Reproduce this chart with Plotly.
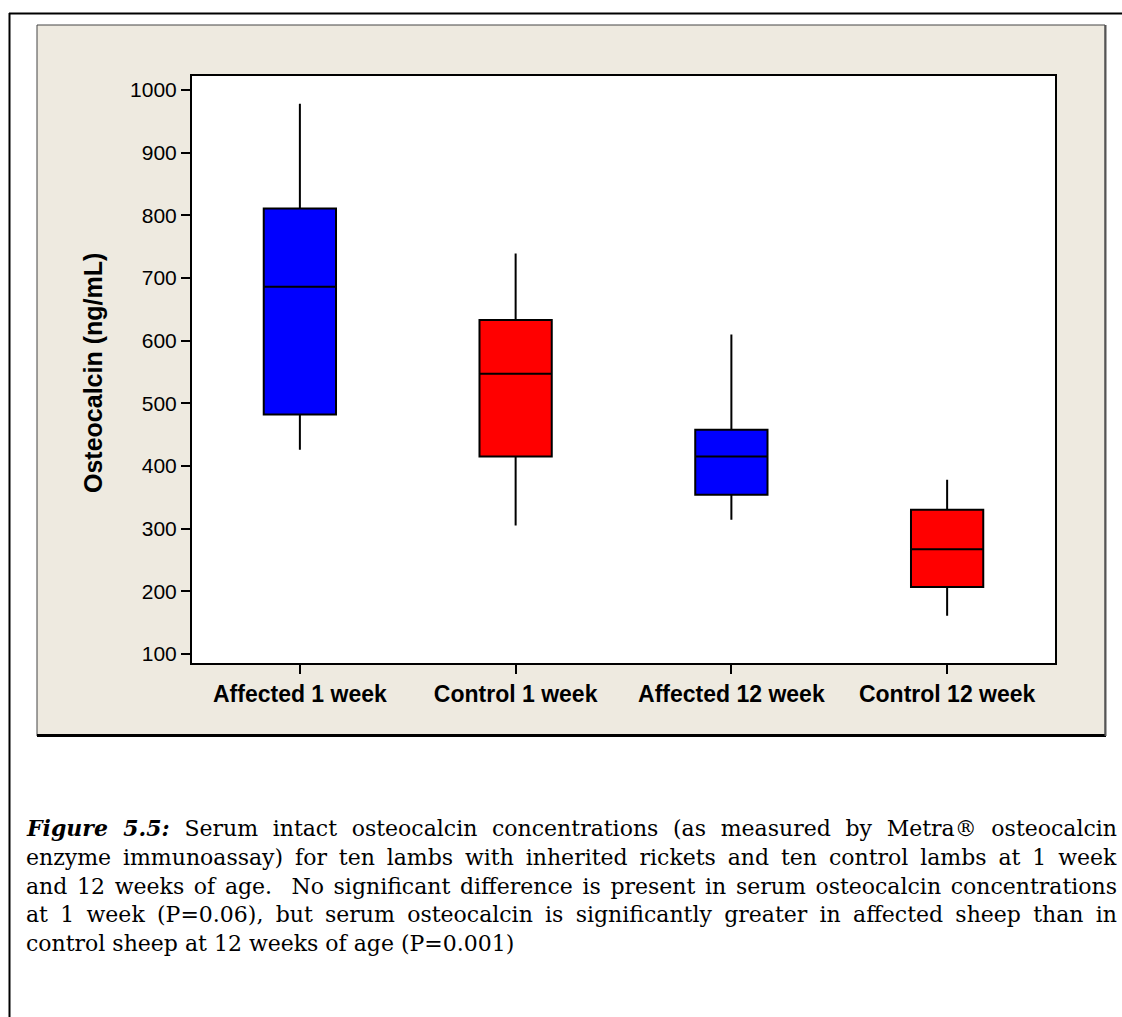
import plotly.graph_objects as go

# ---------------- data ----------------
categories = ["Affected 1 week", "Control 1 week", "Affected 12 week", "Control 12 week"]

affected_x = ["Affected 1 week", "Affected 12 week"]
affected_low = [426, 314]
affected_q1 = [482, 354]
affected_median = [686, 415]
affected_q3 = [811, 458]
affected_high = [978, 610]

control_x = ["Control 1 week", "Control 12 week"]
control_low = [305, 161]
control_q1 = [415, 207]
control_median = [547, 267]
control_q3 = [633, 330]
control_high = [739, 378]

y_ticks = [100, 200, 300, 400, 500, 600, 700, 800, 900, 1000]

caption_lines = [
    "<b><i>Figure 5.5:</i></b> Serum intact osteocalcin concentrations (as measured by Metra® osteocalcin",
    "enzyme immunoassay) for ten lambs with inherited rickets and ten control lambs at 1 week",
    "and 12 weeks of age.  No significant difference is present in serum osteocalcin concentrations",
    "at 1 week (P=0.06), but serum osteocalcin is significantly greater in affected sheep than in",
    "control sheep at 12 weeks of age (P=0.001)",
]

# ---------------- layout geometry (pixels) ----------------
W, H = 1122, 1017
PL, PR, PT, PB = 192, 1055, 76, 663  # plot area edges


def px(x):
    return (x - PL) / (PR - PL)


def py(y):
    return (PB - y) / (PB - PT)


fig = go.Figure()

fig.add_trace(go.Box(
    x=affected_x, q1=affected_q1, median=affected_median, q3=affected_q3,
    lowerfence=affected_low, upperfence=affected_high,
    fillcolor="#0000FF", line=dict(color="black", width=2),
    whiskerwidth=0, width=0.335, boxpoints=False, showlegend=False,
    name="Affected",
))
fig.add_trace(go.Box(
    x=control_x, q1=control_q1, median=control_median, q3=control_q3,
    lowerfence=control_low, upperfence=control_high,
    fillcolor="#FF0000", line=dict(color="black", width=2),
    whiskerwidth=0, width=0.335, boxpoints=False, showlegend=False,
    name="Control",
))

shapes = [
    # beige panel
    dict(type="rect", xref="paper", yref="paper", layer="below",
         x0=px(37), x1=px(1105), y0=py(736), y1=py(25),
         fillcolor="#EEEAE0", line=dict(color="#444444", width=1)),
    # panel bottom/right heavier edges
    dict(type="line", xref="paper", yref="paper", layer="below",
         x0=px(37), x1=px(1106), y0=py(735.5), y1=py(735.5),
         line=dict(color="black", width=3)),
    dict(type="line", xref="paper", yref="paper", layer="below",
         x0=px(1105.5), x1=px(1105.5), y0=py(25), y1=py(736),
         line=dict(color="#555555", width=2)),
    # white plotting area
    dict(type="rect", xref="paper", yref="paper", layer="below",
         x0=0, x1=1, y0=0, y1=1,
         fillcolor="white", line=dict(width=0)),
    # outer page frame
    dict(type="line", xref="paper", yref="paper", layer="below",
         x0=px(9), x1=px(1122), y0=py(13.5), y1=py(13.5),
         line=dict(color="black", width=2)),
    dict(type="line", xref="paper", yref="paper", layer="below",
         x0=px(9.5), x1=px(9.5), y0=py(13), y1=py(1017),
         line=dict(color="black", width=2)),
]

annotations = [
    dict(text="<b>Osteocalcin (ng/mL)</b>", xref="paper", yref="paper",
         x=px(93), y=py(373), textangle=-90, showarrow=False,
         xanchor="center", yanchor="middle",
         font=dict(family="Liberation Sans, Arial, sans-serif", size=25, color="black")),
]

line_y = [828, 857, 886, 914, 943]
for txt, ly in zip(caption_lines, line_y):
    annotations.append(dict(
        text=txt, xref="paper", yref="paper", x=px(24), y=py(ly),
        xanchor="left", yanchor="middle", showarrow=False, align="left",
        font=dict(family="DejaVu Serif, serif", size=22, color="black"),
    ))

fig.update_layout(
    width=W, height=H,
    margin=dict(l=PL, r=W - PR, t=PT, b=H - PB, pad=0),
    paper_bgcolor="white",
    plot_bgcolor="rgba(0,0,0,0)",
    boxmode="overlay",
    showlegend=False,
    shapes=shapes,
    annotations=annotations,
    xaxis=dict(
        type="category", categoryorder="array", categoryarray=categories,
        range=[-0.5, 3.5], showgrid=False, zeroline=False,
        showline=True, linecolor="black", linewidth=2, mirror=True,
        ticks="outside", ticklen=9, tickwidth=2, tickcolor="black",
        tickfont=dict(family="Liberation Sans, Arial, sans-serif", size=23, color="black", weight="bold"),
        automargin=False,
    ),
    yaxis=dict(
        range=[85.6, 1022.3], tickvals=y_ticks, ticktext=[str(v) for v in y_ticks],
        showgrid=False, zeroline=False,
        showline=True, linecolor="black", linewidth=2, mirror=True,
        ticks="outside", ticklen=9, tickwidth=2, tickcolor="black",
        tickfont=dict(family="Liberation Sans, Arial, sans-serif", size=21, color="black"),
        automargin=False,
    ),
)

# justify the first four caption lines (as in the printed figure)
justify_js = """
var gd = document.getElementById('{plot_id}');
var right = 1125;
gd.querySelectorAll('text.annotation-text').forEach(function(t) {
  var s = t.textContent || '';
  var r0 = t.getBoundingClientRect();
  if (r0.left < 60 && s.length > 60) {
    var n = (s.match(/ +/g) || []).length;
    if (n > 0) {
      var ws = 0;
      for (var k = 0; k < 3; k++) {
        var r = t.getBoundingClientRect();
        ws += (right - r.right) / n;
        t.style.wordSpacing = ws + 'px';
      }
    }
  }
});
"""

fig.write_html("out.html", post_script=justify_js)
